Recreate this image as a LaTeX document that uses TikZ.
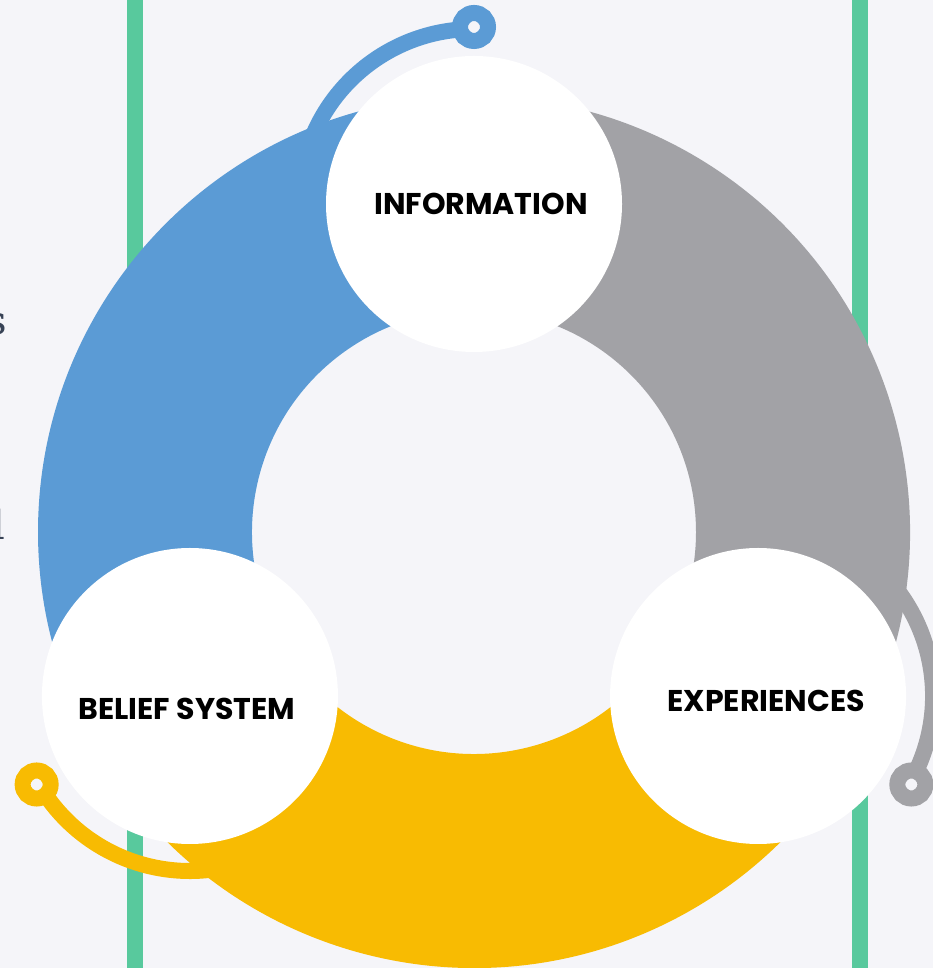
\documentclass[tikz,border=0pt]{standalone}
\usepackage{fontspec}
\newfontfamily\labelfont{Poppins}
\newfontfamily\bodyfont{DejaVu Serif}
\definecolor{blue1}{RGB}{91,155,213}
\definecolor{gray1}{RGB}{162,162,166}
\definecolor{yellow1}{RGB}{248,187,2}
\definecolor{green1}{RGB}{88,201,157}
\definecolor{paper1}{RGB}{245,245,249}
\definecolor{slate1}{RGB}{55,66,86}
\usepackage{tikz}
\usetikzlibrary{positioning, calc}

\begin{document}
\begin{tikzpicture}[x=1pt, y=1pt,
  bubble/.style={circle, fill=white, minimum size=296pt, inner sep=0pt},
  caption/.style={font=\labelfont\bfseries\fontsize{30}{36}\selectfont, text=black, inner sep=0pt},
  hook/.style={line width=16pt}]
  \useasboundingbox (0,0) rectangle (933,968);
  \clip (0,0) rectangle (933,968);
  \fill[paper1] (0,0) rectangle (933,968);
  % side rules
  \fill[green1] (127,0) rectangle (143,968);
  \fill[green1] (852,0) rectangle (868,968);

  \coordinate (hub) at (474,436);
  % ring, three sectors
  \fill[blue1, shift={(hub)}] (90:436pt) arc[start angle=90, end angle=210, radius=436pt]
    -- (210:222pt) arc[start angle=210, end angle=90, radius=222pt] -- cycle;
  \fill[yellow1, shift={(hub)}] (210:436pt) arc[start angle=210, end angle=330, radius=436pt]
    -- (330:222pt) arc[start angle=330, end angle=210, radius=222pt] -- cycle;
  \fill[gray1, shift={(hub)}] (330:436pt) arc[start angle=330, end angle=450, radius=436pt]
    -- (450:222pt) arc[start angle=450, end angle=330, radius=222pt] -- cycle;

  \coordinate (info) at ($(hub)+(90:328pt)$);
  \coordinate (belief) at ($(hub)+(210:328pt)$);
  \coordinate (exper) at ($(hub)+(330:328pt)$);
  \coordinate (infopin) at ($(info)+(90:177pt)$);
  \coordinate (beliefpin) at ($(belief)+(210:177pt)$);
  \coordinate (experpin) at ($(exper)+(330:177pt)$);

  % hooks with pins
  \draw[blue1, hook] ($(info)+(165:175pt)$) arc[start angle=165, end angle=94, radius=175pt];
  \draw[blue1, hook] (infopin) circle[radius=14pt];
  \draw[yellow1, hook] ($(belief)+(285:175pt)$) arc[start angle=285, end angle=214, radius=175pt];
  \draw[yellow1, hook] (beliefpin) circle[radius=14pt];
  \draw[gray1, hook] ($(exper)+(45:175pt)$) arc[start angle=45, end angle=-26, radius=175pt];
  \draw[gray1, hook] (experpin) circle[radius=14pt];

  % bubbles
  \node[bubble] (infobub) at (info) {};
  \node[bubble] (beliefbub) at (belief) {};
  \node[bubble] (experbub) at (exper) {};
  \node[caption] (infotext) at ($(info)+(7pt,0pt)$) {INFORMATION};
  \node[caption] (belieftext) at ($(belief)+(-3pt,-13pt)$) {BELIEF SYSTEM};
  \node[caption] (expertext) at ($(exper)+(8pt,-5pt)$) {EXPERIENCES};

  % cut-off text at the left edge
  \node[anchor=base east, inner sep=0pt, text=slate1, font=\bodyfont\fontsize{40}{48}\selectfont] (cuts) at (7,633) {s};
  \node[anchor=base east, inner sep=0pt, text=slate1, font=\bodyfont\fontsize{40}{48}\selectfont] (cutl) at (5,428) {l};
\end{tikzpicture}
\end{document}
